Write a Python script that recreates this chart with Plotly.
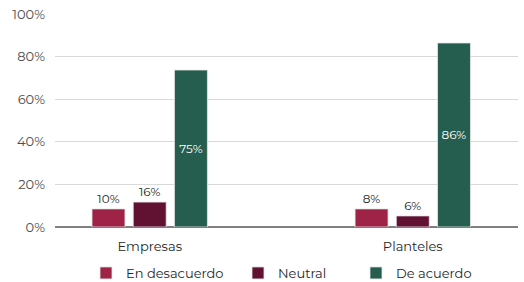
import plotly.graph_objects as go

categories = ["Empresas", "Planteles"]
series_names = ["En desacuerdo", "Neutral", "De acuerdo"]
# bar heights as drawn in the picture (percent)
en_desacuerdo = [8.5, 8.5]
neutral = [11.7, 5.2]
de_acuerdo = [73.7, 86.4]
# data labels as printed in the picture
label_en_desacuerdo = ["10%", "8%"]
label_neutral = ["16%", "6%"]
label_de_acuerdo = ["75%", "86%"]
y_ticks = [0, 20, 40, 60, 80, 100]
y_tick_labels = ["0%", "20%", "40%", "60%", "80%", "100%"]

colors = ["#9F2346", "#611232", "#255E4E"]
font_family = "Montserrat, 'Open Sans', 'DejaVu Sans', sans-serif"

W, H = 524, 282
ML, MR, MT, MB = 55, 6, 14, 55
plot_w = W - ML - MR

def px_to_paper(px):
    return (px - ML) / plot_w

legend_left_px = [86, 238, 356]
legend_names = ["legend", "legend2", "legend3"]

fig = go.Figure()
series = [
    (series_names[0], en_desacuerdo, label_en_desacuerdo, "outside", "#1F1F1F"),
    (series_names[1], neutral, label_neutral, "outside", "#1F1F1F"),
    (series_names[2], de_acuerdo, label_de_acuerdo, "inside", "#FFFFFF"),
]
for (name, vals, labels, pos, tcol), col, lg in zip(series, colors, legend_names):
    fig.add_trace(go.Bar(
        x=categories, y=vals, name=name, text=labels,
        textposition=pos, insidetextanchor="middle",
        textfont=dict(color=tcol, size=12, family=font_family),
        marker=dict(color=col, line=dict(color="#E6E6E6", width=0.8)),
        cliponaxis=False, legend=lg,
    ))

legend_common = dict(orientation="h", xanchor="left", y=-0.216, yanchor="middle",
                     font=dict(size=13, color="#262626"), itemwidth=30,
                     bgcolor="rgba(0,0,0,0)", borderwidth=0)

fig.update_layout(
    width=W, height=H,
    margin=dict(l=ML, r=MR, t=MT, b=MB, autoexpand=False),
    paper_bgcolor="white", plot_bgcolor="white",
    barmode="group", bargap=0.53, bargroupgap=0.2,
    font=dict(family=font_family, size=12, color="#404040"),
    showlegend=True,
    legend=dict(x=px_to_paper(legend_left_px[0]), **legend_common),
    legend2=dict(x=px_to_paper(legend_left_px[1]), **legend_common),
    legend3=dict(x=px_to_paper(legend_left_px[2]), **legend_common),
    uniformtext=dict(mode=False),
)
fig.update_xaxes(range=[-0.36, 1.40], showgrid=False, showline=False, ticks="",
                 automargin=False, ticklabelstandoff=10,
                 tickfont=dict(size=13, color="#262626"))
fig.update_yaxes(range=[0, 100], tickmode="array", tickvals=y_ticks, ticktext=y_tick_labels,
                 automargin=False,
                 showgrid=True, gridcolor="#D9D9D9", gridwidth=1,
                 zeroline=True, zerolinecolor="#808080", zerolinewidth=1.5,
                 tickfont=dict(size=13, color="#4D4D4D"), ticklabelstandoff=9)

fig.write_html("out.html", config={"displayModeBar": False},
               post_script="document.body.style.margin='0';document.body.style.overflow='hidden';")
